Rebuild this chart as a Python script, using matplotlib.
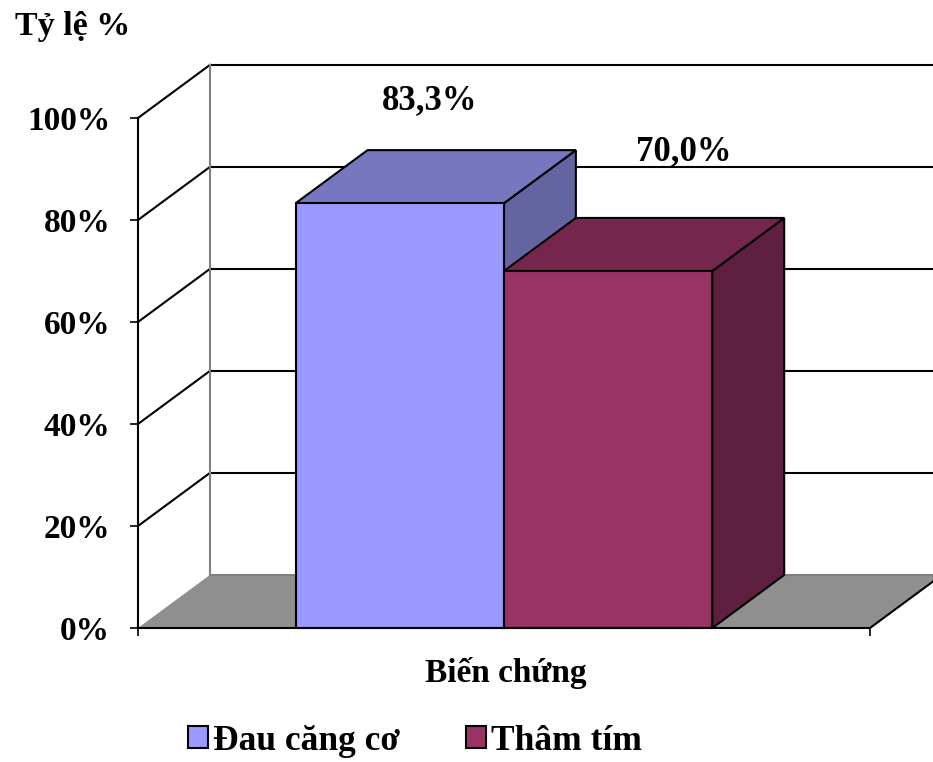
import matplotlib
matplotlib.use("Agg")
import matplotlib.pyplot as plt
from matplotlib.patches import Polygon, Patch
from matplotlib.ticker import FuncFormatter

# Data
series_names = ["Đau căng cơ", "Thâm tím"]
values = [83.3, 70.0]
value_labels = ["83,3%", "70,0%"]
category = "Biến chứng"
y_ticks = [0, 20, 40, 60, 80, 100]
y_title = "Tỷ lệ %"

# Style
front_colors = ["#9999FF", "#993366"]
top_colors = ["#7777C0", "#74264D"]
side_colors = ["#6464A0", "#5F1F40"]
floor_color = "#8F8F8F"
wall_line = "#808080"
FONT = ["Liberation Serif", "DejaVu Serif"]
FS = 24

gap = 0.757          # floor margin on each side of the bar group (bar widths)
dx, dy = 0.345, 10.4  # oblique depth offset (x units, percent units)
label_dx = [-0.03, 0.19]
label_dy = [9.8, 13.1]

fig = plt.figure(figsize=(9.33, 7.62), dpi=100)
ax = fig.add_axes([138 / 933, 134 / 762, 732 / 933, 510 / 762])
x0, x1 = -gap, len(values) + gap
ax.set_xlim(x0, x1)
ax.set_ylim(0, 100)

# back wall: gridlines, top edge and left vertical edge
for yv in y_ticks[1:]:
    ax.plot([x0 + dx, x1 + dx], [yv + dy, yv + dy], color="black", lw=1.5,
            clip_on=False, zorder=1, solid_capstyle="butt")
    ax.plot([x0, x0 + dx], [yv, yv + dy], color="black", lw=1.5,
            clip_on=False, zorder=1)
ax.plot([x0 + dx, x0 + dx], [dy, 100 + dy], color=wall_line, lw=1.5,
        clip_on=False, zorder=1)

# floor
ax.add_patch(Polygon([(x0, 0), (x1, 0), (x1 + dx, dy), (x0 + dx, dy)],
                     closed=True, facecolor=floor_color, edgecolor="none",
                     clip_on=False, zorder=2))
ax.plot([x0 + dx, x1 + dx], [dy, dy], color=wall_line, lw=1.5,
        clip_on=False, zorder=2)
ax.plot([x1, x1 + dx], [0, dy], color="black", lw=1.5, clip_on=False, zorder=2)

# 3D bars
for i, v in enumerate(values):
    l, r = i, i + 1
    z = 3 + i
    kw = dict(closed=True, edgecolor="black", lw=1.5, clip_on=False,
              zorder=z, joinstyle="miter")
    ax.add_patch(Polygon([(r, 0), (r + dx, dy), (r + dx, v + dy), (r, v)],
                         facecolor=side_colors[i], **kw))
    ax.add_patch(Polygon([(l, v), (r, v), (r + dx, v + dy), (l + dx, v + dy)],
                         facecolor=top_colors[i], **kw))
    ax.add_patch(Polygon([(l, 0), (r, 0), (r, v), (l, v)],
                         facecolor=front_colors[i], **kw))
    ax.text(l + 0.5 + dx / 2 + label_dx[i], v + dy + label_dy[i], value_labels[i],
            ha="center", va="center", fontsize=25, fontweight="bold",
            family=FONT, zorder=10)

# axes styling
for s in ["top", "right"]:
    ax.spines[s].set_visible(False)
for s in ["left", "bottom"]:
    ax.spines[s].set_linewidth(1.5)
    ax.spines[s].set_zorder(8)
ax.set_facecolor("none")
ax.set_yticks(y_ticks)
ax.yaxis.set_major_formatter(FuncFormatter(lambda v, p: f"{v:.0f}%"))
ax.set_xticks([x0, x1])
ax.set_xticklabels([])
ax.tick_params(axis="both", direction="out", length=6, width=1.2, color="black")
ax.tick_params(axis="y", pad=14)
for t in ax.get_yticklabels():
    t.set_fontsize(FS)
    t.set_fontweight("bold")
    t.set_family(FONT)

fig.text(15 / 933, 1 - 35 / 762, y_title, ha="left", va="baseline",
         fontsize=24.5, fontweight="bold", family=FONT)
fig.text(506 / 933, 1 - 673 / 762, category, ha="center", va="center",
         fontsize=FS, fontweight="bold", family=FONT)

handles = [Patch(facecolor=c, edgecolor="black", lw=1.5) for c in front_colors]
leg = fig.legend(handles, series_names, loc="center", ncol=2,
                 bbox_to_anchor=(415 / 933, 1 - 741 / 762), frameon=False,
                 prop={"family": FONT, "size": 25.5, "weight": "bold"},
                 handlelength=0.565, handleheight=0.565, handletextpad=0.14,
                 columnspacing=1.84, borderpad=0, borderaxespad=0)

fig.savefig("out.png", dpi=100)
